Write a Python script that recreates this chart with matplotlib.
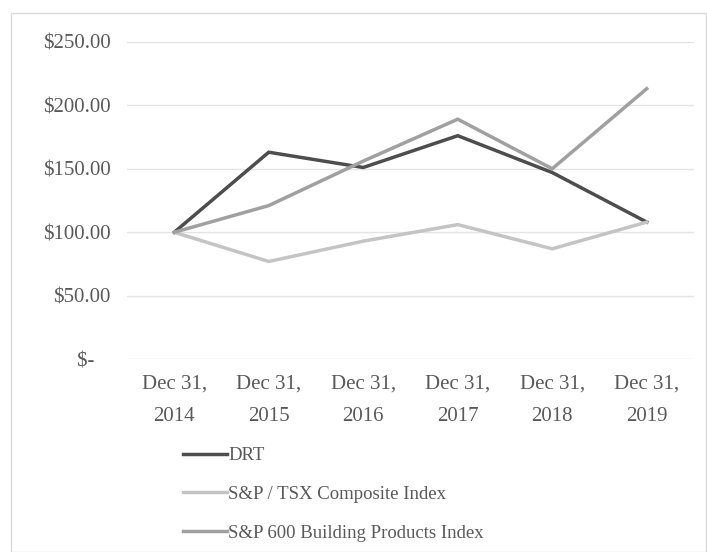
import matplotlib
matplotlib.use("Agg")
import matplotlib.pyplot as plt
from matplotlib.patches import Rectangle

categories = ["Dec 31,\n2014", "Dec 31,\n2015", "Dec 31,\n2016", "Dec 31,\n2017", "Dec 31,\n2018", "Dec 31,\n2019"]
drt = [100, 163, 151, 176, 147, 108]
tsx = [100, 77, 93, 106, 87, 108]
sp600 = [100, 121, 156, 189, 150, 213]
series_names = ["DRT", "S&P / TSX Composite Index", "S&P 600 Building Products Index"]
yticks = [0, 50, 100, 150, 200, 250]
ytick_labels = ["$-   ", "$50.00", "$100.00", "$150.00", "$200.00", "$250.00"]

plt.rcParams['font.family'] = ['Liberation Serif', 'DejaVu Serif']
W, H = 707, 552
fig = plt.figure(figsize=(W / 100, H / 100), dpi=100)
ax = fig.add_axes([127 / W, 1 - 359.3 / H, (694 - 127) / W, (359.3 - 41.7) / H])

x = list(range(len(categories)))
colors = ["#4d4d4d", "#c4c4c4", "#a0a0a0"]
for vals, name, c in zip([drt, tsx, sp600], series_names, colors):
    ax.plot(x, vals, color=c, lw=2.5, label=name, solid_joinstyle='miter')

ax.set_xlim(-0.5, len(categories) - 0.5)
ax.set_ylim(0, 250)
ax.set_yticks(yticks)
ax.set_yticklabels(ytick_labels)
ax.set_xticks(x)
ax.set_xticklabels(categories, linespacing=1.95)
for s in ax.spines.values():
    s.set_visible(False)
ax.tick_params(length=0, labelsize=15, colors="#595959")
ax.tick_params(axis='y', pad=12)
ax.tick_params(axis='x', pad=11)
ax.grid(axis='y', color="#e4e4e4", lw=1)
ax.set_axisbelow(True)

handles, labels = ax.get_legend_handles_labels()
leg = fig.legend(handles, labels, loc="upper left",
                 bbox_to_anchor=(183 / W, 1 - 447 / H), frameon=False,
                 fontsize=13.5, handlelength=2.35, handletextpad=0.05,
                 labelspacing=1.15, borderpad=0, borderaxespad=0)
for t in leg.get_texts():
    t.set_color("#595959")

fig.patches.append(Rectangle((11 / W, 0), (706 - 11) / W, 1 - 13 / H,
                             transform=fig.transFigure, fill=False,
                             edgecolor="#d9d9d9", lw=1))

fig.savefig("out.png", dpi=100)
